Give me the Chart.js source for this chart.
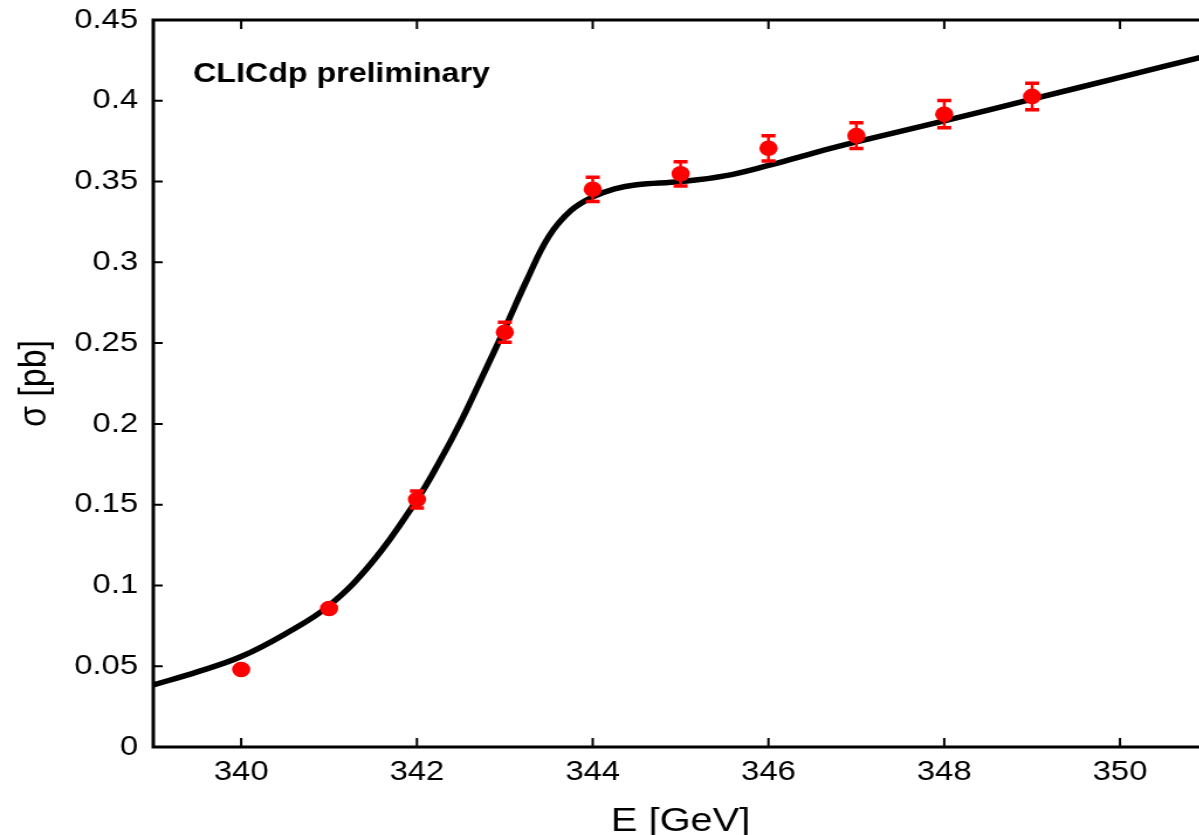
<!DOCTYPE html>
<html>
<head>
<meta charset="utf-8">
<title>CLICdp top threshold scan</title>
<script src="https://cdn.jsdelivr.net/npm/chart.js@4.4.1/dist/chart.umd.min.js"></script>
<style>
  html, body { margin: 0; padding: 0; background: #fff; overflow: hidden; }
  #wrap { width: 1199px; height: 835px; overflow: hidden; }
  canvas { display: block; }
</style>
</head>
<body>
<div id="wrap">
  <!-- the source picture is stretched sideways, so the canvas is too -->
  <canvas id="xsec" width="1040" height="835" style="width:1217px;height:835px"></canvas>
</div>
<script>
// measured points (E in GeV, sigma in pb)
const energies = [340, 341, 342, 343, 344, 345, 346, 347, 348, 349];
const sigma    = [0.0480, 0.0857, 0.1532, 0.2567, 0.3452, 0.3548, 0.3706, 0.3784, 0.3917, 0.4027];
const sigmaErr = [0.0015, 0.0018, 0.0052, 0.0062, 0.0075, 0.0075, 0.0078, 0.0080, 0.0084, 0.0082];

// theory curve
const curveE     = [339, 339.5, 340, 340.5, 341, 341.5, 342, 342.25, 342.5, 342.75, 343, 343.25, 343.5, 343.75, 344, 344.25, 344.5, 345, 345.5, 346, 346.5, 347, 348, 349, 350, 351];
const curveSigma = [0.0384, 0.0465, 0.0560, 0.0700, 0.0875, 0.1150, 0.1530, 0.1760, 0.2015, 0.2300, 0.2590, 0.2890, 0.3160, 0.3320, 0.3405, 0.3455, 0.3480, 0.3500, 0.3535, 0.3600, 0.3675, 0.3745, 0.3875, 0.4010, 0.4145, 0.4280];

const xTicks = [340, 342, 344, 346, 348, 350];
const yTicks = [0, 0.05, 0.1, 0.15, 0.2, 0.25, 0.3, 0.35, 0.4, 0.45];

const tickFont = { family: '"Liberation Sans", Arial, sans-serif', size: 28 };
const titleFont = { family: '"Liberation Sans", Arial, sans-serif', size: 34, lineHeight: 1 };

// frame, inward ticks, error bars and the label
const decorPlugin = {
    id: 'decor',
    afterDatasetsDraw(chart) {
        const ctx = chart.ctx;
        const x = chart.scales.x;
        const y = chart.scales.y;
        ctx.save();
        ctx.strokeStyle = '#ff0000';
        energies.forEach((e, i) => {
            const px = x.getPixelForValue(e);
            const top = y.getPixelForValue(sigma[i] + sigmaErr[i]);
            const bot = y.getPixelForValue(sigma[i] - sigmaErr[i]);
            ctx.lineWidth = 2.5;
            ctx.beginPath();
            ctx.moveTo(px, top);
            ctx.lineTo(px, bot);
            ctx.stroke();
            ctx.lineWidth = 3.5;
            ctx.beginPath();
            ctx.moveTo(px - 6, top);
            ctx.lineTo(px + 6, top);
            ctx.moveTo(px - 6, bot);
            ctx.lineTo(px + 6, bot);
            ctx.stroke();
        });
        ctx.restore();
    },
    afterDraw(chart) {
        const ctx = chart.ctx;
        const a = chart.chartArea;
        const x = chart.scales.x;
        const y = chart.scales.y;
        ctx.save();
        ctx.strokeStyle = '#000';
        ctx.lineWidth = 2;
        ctx.beginPath();
        xTicks.forEach(v => {
            const px = x.getPixelForValue(v);
            ctx.moveTo(px, a.bottom);
            ctx.lineTo(px, a.bottom - 9);
            ctx.moveTo(px, a.top);
            ctx.lineTo(px, a.top + 9);
        });
        yTicks.forEach(v => {
            const py = y.getPixelForValue(v);
            ctx.moveTo(a.left, py);
            ctx.lineTo(a.left + 8, py);
        });
        ctx.stroke();

        ctx.lineWidth = 3;
        ctx.strokeRect(a.left, a.top, a.right - a.left, a.bottom - a.top);

        ctx.fillStyle = '#000';
        ctx.font = 'bold 27.5px "Liberation Sans", Arial, sans-serif';
        ctx.textBaseline = 'alphabetic';
        ctx.fillText('CLICdp preliminary', 165, 82);
        ctx.restore();
    }
};

new Chart(document.getElementById('xsec'), {
    type: 'scatter',
    data: {
        datasets: [
            {
                label: 'data',
                data: energies.map((e, i) => ({ x: e, y: sigma[i] })),
                backgroundColor: '#ff0000',
                borderWidth: 0,
                pointRadius: 7.8,
                order: 0
            },
            {
                label: 'theory',
                type: 'line',
                data: curveE.map((e, i) => ({ x: e, y: curveSigma[i] })),
                borderColor: '#000',
                borderWidth: 5.5,
                pointRadius: 0,
                fill: false,
                tension: 0.4,
                order: 1
            }
        ]
    },
    options: {
        responsive: false,
        animation: false,
        layout: { padding: { top: 20, right: 6, bottom: 0, left: 0 } },
        plugins: {
            legend: { display: false },
            tooltip: { enabled: false }
        },
        scales: {
            x: {
                type: 'linear',
                min: 339,
                max: 351,
                grid: { display: false, drawTicks: false },
                border: { display: false },
                afterBuildTicks: s => { s.ticks = xTicks.map(v => ({ value: v })); },
                afterFit: s => { s.height = 88; s.paddingLeft = 0; s.paddingRight = 0; },
                ticks: { font: tickFont, color: '#000', padding: 8, maxRotation: 0 },
                title: { display: true, text: 'E [GeV]', font: titleFont, color: '#000', padding: { top: 0, bottom: -4 } }
            },
            y: {
                min: 0,
                max: 0.45,
                grid: { display: false, drawTicks: false },
                border: { display: false },
                afterBuildTicks: s => { s.ticks = yTicks.map(v => ({ value: v })); },
                afterFit: s => { s.width = 131; s.paddingTop = 0; s.paddingBottom = 0; },
                ticks: {
                    font: tickFont,
                    color: '#000',
                    padding: 13,
                    callback: v => String(Number(v.toFixed(2)))
                },
                title: { display: true, text: 'σ [pb]', font: titleFont, color: '#000', padding: { top: 13, bottom: 0 } }
            }
        }
    },
    plugins: [decorPlugin]
});
</script>
</body>
</html>
